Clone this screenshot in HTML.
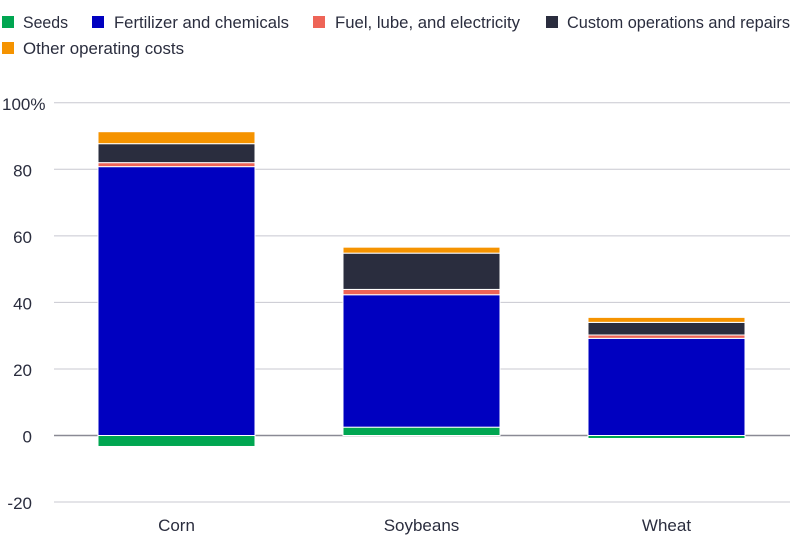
<!DOCTYPE html>
<html><head><meta charset="utf-8"><style>
body{margin:0;background:#fff}
svg{display:block;font-family:"Liberation Sans",sans-serif}
</style></head><body>
<svg id="chart" width="800" height="553" viewBox="0 0 800 553">
<g id="legend"></g>
<g id="grid"></g>
<g id="bars"></g>
<g id="xlabels"></g>
</svg>
<script>
const categories = ["Corn","Soybeans","Wheat"];
const seriesNames = ["Seeds","Fertilizer and chemicals","Fuel, lube, and electricity","Custom operations and repairs","Other operating costs"];
const seeds = [-3.3, 2.5, -0.9];
const fertilizer = [80.8, 39.8, 29.2];
const fuel = [1.2, 1.6, 1.0];
const custom = [5.7, 10.9, 3.8];
const other = [3.6, 1.8, 1.5];
const yTicks = [-20, 0, 20, 40, 60, 80, 100];
const yTickLabels = ["-20","0","20","40","60","80","100%"];

const colors = ["#00a651","#0000c0","#ee6457","#2a2d3e","#f59300"];
const series = [seeds, fertilizer, fuel, custom, other];
const NS = "http://www.w3.org/2000/svg";
function y(v){ return 435.5 - v*3.3275; }
function xc(i){ return 176.5 + i*245; }
const bw = 157;
function mk(tag, attrs, parent){ const e=document.createElementNS(NS,tag); for(const k in attrs) e.setAttribute(k,attrs[k]); parent.appendChild(e); return e; }

// legend
const leg = document.getElementById("legend");
const legPos = [[2,16,23,45],[92,16,114,175],[313,16,335,185],[546,16,567,223],[2,42,23,161]];
seriesNames.forEach((n,i)=>{
  const g = mk("g",{},leg);
  
  
  const p = legPos[i];
  mk("rect",{x:p[0],y:p[1],width:12,height:12,fill:colors[i]},g);
  const t = mk("text",{x:p[2],y:p[1]+12,"font-size":17,fill:"#2a2d3e",textLength:p[3],lengthAdjust:"spacingAndGlyphs"},g);
  t.textContent = n;
});

// grid
const grid = document.getElementById("grid");
yTicks.forEach((v,i)=>{
  const l = mk("line",{x1:54,x2:790,y1:y(v),y2:y(v),stroke:v===0?"#8a8a95":"#c8c8d0","stroke-width":v===0?1.5:1},grid);
  
  
  const t = mk("text",{x:v===100?2:32,y:y(v)+7,"font-size":17,fill:"#2a2d3e","text-anchor":v===100?"start":"end"},grid);
  
  
  t.textContent = yTickLabels[i];
});

// bars
const bars = document.getElementById("bars");
categories.forEach((c,i)=>{
  let pos=0, neg=0;
  series.forEach((s,k)=>{
    const v = s[i];
    let y0,y1;
    if(v>=0){ y0=pos; y1=pos+v; pos=y1; } else { y0=neg; y1=neg+v; neg=y1; }
    const top = Math.min(y(y0),y(y1)), h = Math.abs(y(y1)-y(y0));
    const r = mk("rect",{x:xc(i)-bw/2,y:top,width:bw,height:h,fill:colors[k],stroke:"#fff","stroke-width":1},bars);
    
    
  });
  const t = mk("text",{x:xc(i),y:531,"font-size":17,fill:"#2a2d3e","text-anchor":"middle"},document.getElementById("xlabels"));
  
  
  t.textContent = c;
});
</script>
</body></html>
